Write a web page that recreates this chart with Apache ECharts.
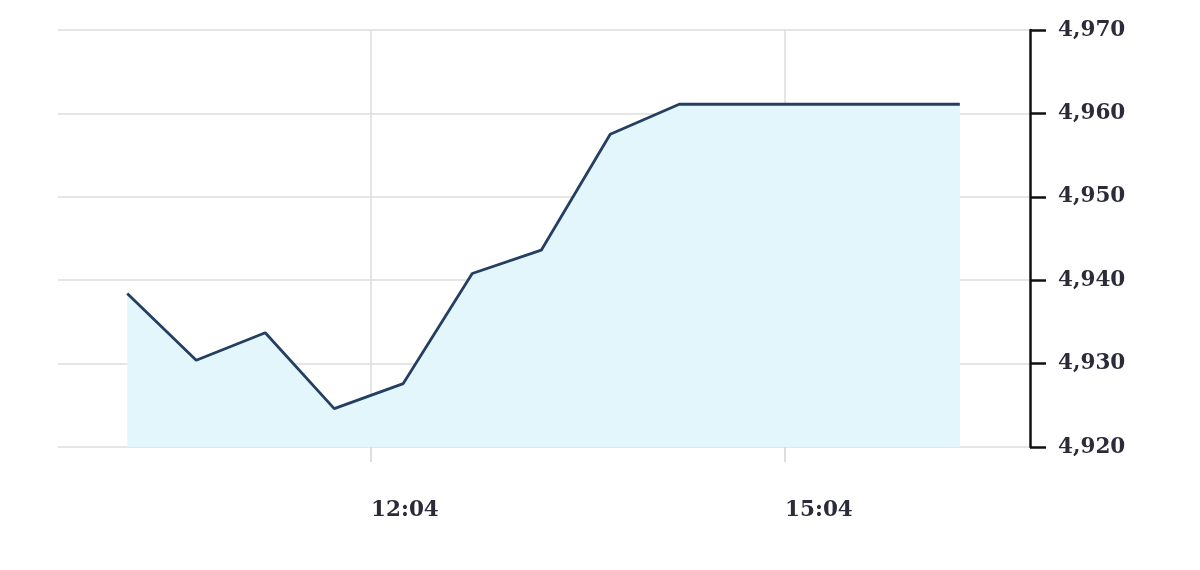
<!DOCTYPE html>
<html>
<head>
<meta charset="utf-8">
<script src="https://cdn.jsdelivr.net/npm/echarts@6/dist/echarts.min.js"></script>
<style>
html,body{margin:0;padding:0;background:#ffffff;}
#chart{width:1200px;height:570px;}
</style>
</head>
<body>
<div id="chart"></div>
<script>
// Data
const times = ['10:18','10:48','11:18','11:48','12:18','12:48','13:18','13:48','14:18','14:48','15:18','15:48','16:20'];
const values = [4938.4, 4930.4, 4933.7, 4924.6, 4927.6, 4940.8, 4943.6, 4957.5, 4961.1, 4961.1, 4961.1, 4961.1, 4961.1];
const xTickLabels = ['12:04', '15:04'];
const yTicks = [4920, 4930, 4940, 4950, 4960, 4970];

function toMin(s){ const p = s.split(':'); return (+p[0])*60 + (+p[1]); }
function toHHMM(m){ const h = Math.floor(m/60), mm = Math.round(m - h*60); return h + ':' + (mm<10?'0':'') + mm; }

const seriesData = times.map((t,i) => [toMin(t), values[i]]);
const xTickValues = xTickLabels.map(toMin);

const chart = echarts.init(document.getElementById('chart'), null, {renderer:'canvas'});
const labelFont = {fontFamily:'DejaVu Serif', fontWeight:'bold', fontSize:21.5, color:'#2b2b3a'};

chart.setOption({
  animation:false,
  backgroundColor:'#ffffff',
  grid:{left:58, right:170, top:30, bottom:123, containLabel:false},
  xAxis:{
    type:'value',
    min: 587.9,
    max: 1010.5,
    axisLine:{show:false},
    axisTick:{show:true, customValues:xTickValues, length:15, lineStyle:{color:'#d4d4d4', width:1.5}},
    axisLabel:{show:true, customValues:xTickValues, formatter:v=>toHHMM(v), align:'left', margin:52, ...labelFont},
    splitLine:{show:true, lineStyle:{color:'#dcdcdc', width:1.5}}
  },
  yAxis:{
    type:'value',
    position:'right',
    min: yTicks[0],
    max: yTicks[yTicks.length-1],
    interval: 10,
    axisLine:{show:true, lineStyle:{color:'#111111', width:2.5}},
    axisTick:{show:true, length:16, lineStyle:{color:'#111111', width:2.5}},
    axisLabel:{show:true, margin:28, padding:[5,0,0,0], formatter:v=>v.toLocaleString('en-US'), ...labelFont},
    splitLine:{show:true, lineStyle:{color:'#dcdcdc', width:1.5}}
  },
  series:[{
    type:'line',
    data:seriesData,
    showSymbol:false,
    symbol:'none',
    lineStyle:{color:'#243f62', width:2.8},
    areaStyle:{color:'#e2f6fb', opacity:1, origin:'start'}
  }]
});
</script>
</body>
</html>
